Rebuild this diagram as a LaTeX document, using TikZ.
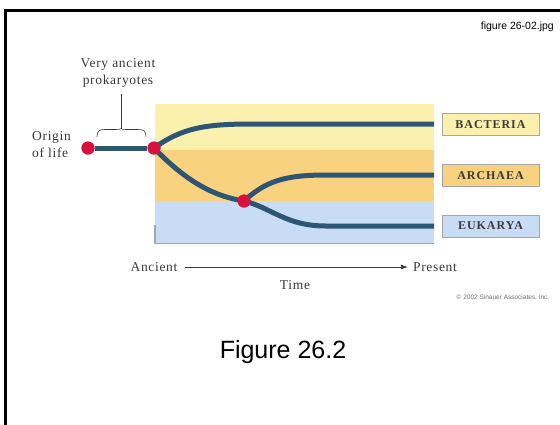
\documentclass[tikz,border=0pt]{standalone}
\usepackage{fontspec}
\setmainfont{Liberation Serif}
\newfontfamily\arialfont{Liberation Sans}
\newfontfamily\capsfont[LetterSpace=8]{Liberation Serif}
\newfontfamily\widefont[LetterSpace=5]{Liberation Serif}
\usetikzlibrary{arrows.meta}
\definecolor{bandyellow}{HTML}{FCF0AE}
\definecolor{bandorange}{HTML}{F9D27F}
\definecolor{bandblue}{HTML}{C8DDF5}
\definecolor{lineage}{HTML}{2D5674}
\definecolor{dotred}{HTML}{D8123C}
\definecolor{inkgray}{HTML}{3A3A3A}
\tikzset{
  lineagepath/.style={draw=lineage, line width=5pt},
  nodedot/.style={circle, fill=dotred, inner sep=0pt, minimum size=13pt},
  domainbox/.style={draw=black!35, line width=0.8pt, minimum width=97pt, minimum height=22pt, inner sep=0pt,
    font=\capsfont\bfseries\fontsize{12}{12}\selectfont, text=inkgray},
  serlabel/.style={font=\widefont\fontsize{13.5}{17}\selectfont, text=inkgray, inner sep=0pt},
}
\begin{document}
\begin{tikzpicture}[x=1pt, y=-1pt]
  \useasboundingbox (0,0) rectangle (560,424);
  \fill[white] (0,0) rectangle (560,424);
  % page frame, running off the right and bottom
  \draw[black, line width=3pt] (5.5,430) -- (5.5,10.5) -- (570,10.5);
  \node[font=\arialfont\fontsize{10.5}{12}\selectfont, anchor=east, inner sep=0pt] (fname) at (554,27) {figure 26-02.jpg};

  % time bands
  \fill[bandyellow] (155,104) rectangle (434,150);
  \fill[bandorange] (155,150) rectangle (434,201);
  \fill[bandblue]   (155,201) rectangle (434,243);
  \draw[black!35, line width=1.2pt] (155,225) -- (155,243.5) -- (434,243.5);

  % branching points
  \node[nodedot] (origin) at (88,148) {};
  \node[nodedot] (split)  at (154,148) {};
  \node[nodedot] (split2) at (244,201) {};
  \coordinate (bend) at (434,124);
  \coordinate (aend) at (434,175);
  \coordinate (eend) at (434,226);

  % lineages
  \path[lineagepath] (origin) -- (split);
  \path[lineagepath] (split.center) .. controls (182,128) and (205,124) .. (252,124) -- (bend);
  \path[lineagepath] (split.center) .. controls (185,180) and (212,196) .. (split2.center);
  \path[lineagepath] (split2.center) .. controls (272,208) and (286,226) .. (326,226) -- (eend);
  \path[lineagepath] (split2.center) .. controls (265,182) and (283,175) .. (326,175) -- (aend);
  % redraw the dots on top of the lineages
  \node[nodedot] at (origin) {};
  \node[nodedot] at (split) {};
  \node[nodedot] at (split2) {};

  % domain labels
  \node[domainbox, fill=bandyellow] (bac) at (490.5,124.5) {BACTERIA};
  \node[domainbox, fill=bandorange] (arc) at (490.5,175.5) {ARCHAEA};
  \node[domainbox, fill=bandblue]   (euk) at (490.5,226) {EUKARYA};

  % early lineage annotation
  \node[serlabel, align=center] (vap) at (118,73) {Very ancient\\prokaryotes};
  \coordinate (brk) at (121,128.5);
  \draw[inkgray, line width=0.6pt] (vap.south -| brk) ++(0,6) -- (brk);
  \draw[inkgray, line width=0.6pt] (97,137) .. controls (97,131) and (99,129.5) .. (105,129.5) -- (116,129.5)
    .. controls (119,129.5) and (121,129) .. (brk) .. controls (121,129) and (123,129.5) .. (126,129.5) -- (138,129.5)
    .. controls (144,129.5) and (146,131) .. (146,137);
  \node[serlabel, align=left, anchor=west] (ool) at (32,145) {Origin\\of life};

  % time axis
  \node[serlabel] (anc) at (154,267) {Ancient};
  \node[serlabel] (pres) at (435,267) {Present};
  \draw[inkgray, line width=0.7pt, -{Latex[length=7pt,width=5pt]}] (anc.east) ++(7,0) -- ([xshift=-5pt]pres.west);
  \node[serlabel] (time) at (295,285) {Time};

  \node[font=\arialfont\fontsize{6.5}{7}\selectfont, text=black!55, inner sep=0pt] (copy) at (503,298) {\textcopyright\ 2002 Sinauer Associates, Inc.};
  \node[font=\arialfont\fontsize{25}{28}\selectfont, inner sep=0pt] (cap) at (283,352) {Figure 26.2};
\end{tikzpicture}
\end{document}
